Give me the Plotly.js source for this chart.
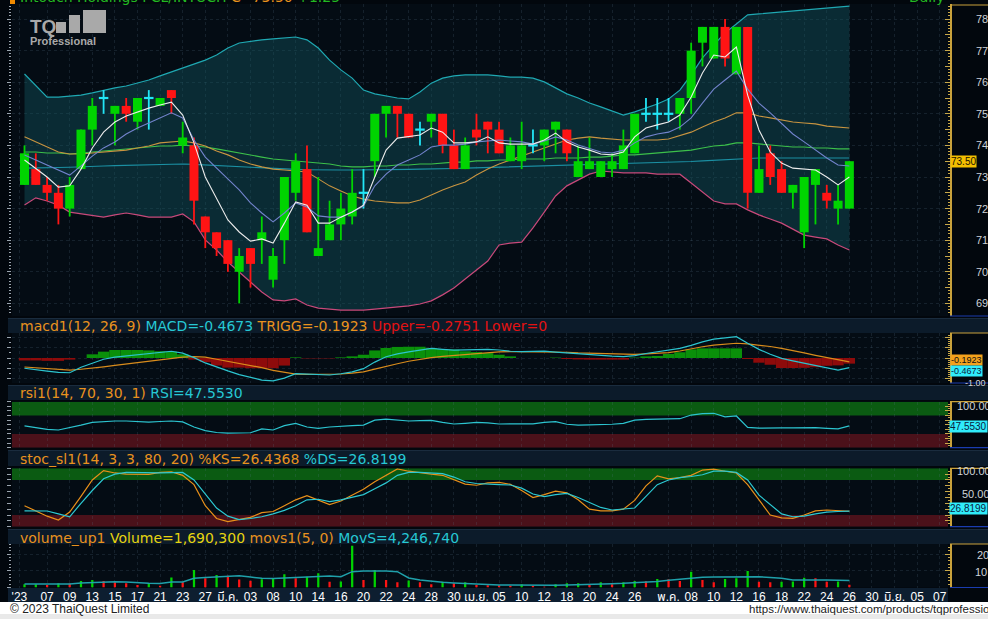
<!DOCTYPE html>
<html><head><meta charset="utf-8">
<script src="https://cdn.plot.ly/plotly-3.0.1.min.js"></script>
<style>html,body{margin:0;padding:0;background:#02070d;overflow:hidden}#chart{width:988px;height:619px}</style>
</head><body><div id="chart"></div>
<script>
// ---------------- DATA ----------------
const openP  = [72.75,73.25,72.75,72.5,72.0,73.25,74.5,75.5,75.0,75.25,
  74.75,75.5,75.25,75.75,74.0,74.0,71.75,71.25,71.0,70.0,
  70.75,71.0,69.75,71.0,72.5,73.25,70.5,71.0,71.5,71.75,
  72.5,73.5,75.0,75.25,75.0,74.5,74.75,75.0,74.0,73.25,
  74.5,74.75,74.5,73.5,73.5,74.0,74.0,74.5,74.5,73.0,
  73.25,73.0,73.25,73.25,73.75,75.0,75.0,75.0,75.0,75.5,
  77.25,76.75,77.75,76.25,77.75,72.5,73.75,73.25,72.5,71.25,
  72.75,72.5,72.0,72.0];
const highP  = [74.0,73.75,73.0,72.75,73.0,74.5,75.5,75.75,75.25,75.5,
  75.5,75.75,75.5,75.75,74.75,74.25,71.75,71.25,71.0,70.75,
  70.75,71.75,70.75,73.0,73.75,74.0,73.0,72.25,72.5,73.25,
  73.25,75.0,75.25,75.25,75.0,74.75,75.0,75.0,74.5,74.25,
  75.0,74.75,74.75,74.25,74.75,74.5,74.5,74.75,74.5,74.0,
  74.25,73.5,73.75,74.5,75.0,75.5,75.5,75.5,75.5,77.25,
  77.75,77.75,78.0,77.75,77.75,74.0,74.0,73.5,72.75,73.0,
  73.25,72.75,72.75,73.5];
const lowP   = [72.75,72.75,72.25,71.5,71.75,73.25,74.0,75.0,74.0,74.75,
  74.5,74.5,75.25,75.0,73.75,71.5,70.75,70.5,70.0,69.0,
  69.5,70.25,69.5,70.25,72.25,71.25,70.5,71.0,71.0,71.5,
  72.0,73.0,74.25,74.25,74.25,74.0,74.25,73.75,73.25,73.25,
  74.0,73.75,73.75,73.5,73.25,73.75,73.5,73.75,73.5,73.0,
  73.25,73.0,73.0,73.25,73.75,74.75,74.5,74.75,74.5,75.0,
  76.5,76.75,76.5,76.25,72.0,72.5,72.75,72.5,72.0,70.75,
  71.5,72.0,71.5,72.0];
const closeP = [73.75,72.75,72.5,72.0,72.75,74.5,75.25,75.5,75.25,75.0,
  75.5,75.5,75.5,75.5,74.25,72.25,71.25,70.75,70.25,70.5,
  70.25,71.25,70.5,73.0,73.5,71.25,70.75,71.5,72.0,72.5,
  72.5,75.0,75.25,75.0,74.25,74.5,75.0,74.0,73.25,74.0,
  74.25,74.5,73.75,74.0,74.0,74.0,74.5,74.75,73.75,73.5,
  73.5,73.5,73.5,74.0,75.0,75.0,75.0,75.0,75.5,77.0,
  77.75,77.75,76.75,77.75,72.5,73.25,73.0,72.5,72.75,73.0,
  73.25,72.25,72.25,73.5];

const bbUpper = [76.26,75.91,75.53,75.53,75.56,75.59,75.66,75.75,75.82,75.88,
  75.97,76.07,76.20,76.32,76.45,76.58,76.70,76.86,77.08,77.24,
  77.30,77.34,77.37,77.40,77.43,77.34,77.08,76.70,76.39,76.13,
  75.75,75.63,75.56,75.50,75.47,75.69,75.97,76.13,76.20,76.23,
  76.23,76.23,76.20,76.16,76.16,76.13,76.01,75.82,75.63,75.50,
  75.34,75.22,75.09,74.96,75.06,75.18,75.31,75.47,75.75,76.23,
  76.77,77.18,77.56,77.84,78.13,78.16,78.19,78.22,78.25,78.28,
  78.32,78.35,78.38,78.41];
const bbLower = [72.11,72.34,72.24,72.11,71.89,71.83,71.77,71.73,71.80,71.86,
  71.80,71.73,71.73,71.73,71.83,71.58,71.01,70.69,70.31,69.99,
  69.68,69.36,69.11,69.08,69.14,68.95,68.85,68.82,68.79,68.79,
  68.79,68.82,68.85,68.89,68.92,68.98,69.08,69.27,69.49,69.77,
  70.06,70.34,70.85,70.91,70.94,71.39,71.89,72.40,72.72,72.91,
  73.09,73.19,73.16,73.13,73.13,73.13,73.09,73.09,73.09,72.81,
  72.53,72.24,72.15,72.15,71.96,71.80,71.67,71.54,71.35,71.16,
  71.10,71.04,70.85,70.69];
const maMid = [74.27,74.11,73.95,73.79,73.73,73.73,73.76,73.79,73.82,73.85,
  73.92,73.98,74.08,74.11,74.14,74.08,73.98,73.82,73.70,73.54,
  73.41,73.32,73.25,73.22,73.19,73.16,72.94,72.72,72.56,72.40,
  72.30,72.24,72.21,72.18,72.18,72.27,72.43,72.59,72.72,72.84,
  73.06,73.25,73.41,73.54,73.66,73.79,73.92,74.04,74.17,74.23,
  74.27,74.23,74.20,74.17,74.17,74.17,74.17,74.20,74.30,74.42,
  74.58,74.74,74.87,75.03,75.03,74.93,74.87,74.80,74.74,74.71,
  74.68,74.61,74.58,74.55];
const maGreen = [73.79,73.79,73.76,73.76,73.73,73.76,73.79,73.82,73.85,73.89,
  73.92,73.95,73.98,73.98,74.01,73.98,73.95,73.89,73.82,73.76,
  73.70,73.63,73.57,73.54,73.51,73.47,73.44,73.41,73.35,73.32,
  73.32,73.35,73.35,73.38,73.38,73.41,73.41,73.44,73.47,73.47,
  73.51,73.51,73.54,73.54,73.57,73.57,73.57,73.60,73.60,73.60,
  73.63,73.63,73.66,73.70,73.70,73.73,73.76,73.79,73.82,73.85,
  73.92,73.98,74.01,74.08,74.08,74.04,74.01,73.98,73.95,73.95,
  73.92,73.92,73.89,73.89];
const maTeal = [73.28,73.28,73.29,73.30,73.31,73.33,73.34,73.35,73.36,73.37,
  73.38,73.39,73.40,73.41,73.41,73.40,73.38,73.36,73.34,73.32,
  73.30,73.28,73.26,73.25,73.24,73.23,73.22,73.22,73.22,73.22,
  73.22,73.23,73.23,73.24,73.24,73.25,73.25,73.26,73.27,73.28,
  73.29,73.30,73.31,73.32,73.33,73.34,73.35,73.36,73.37,73.38,
  73.38,73.39,73.40,73.41,73.42,73.43,73.44,73.45,73.47,73.49,
  73.51,73.53,73.55,73.57,73.59,73.60,73.60,73.60,73.60,73.60,
  73.60,73.60,73.60,73.60];
const maBlue = [73.70,73.54,73.38,73.22,73.06,73.35,73.66,73.92,74.11,74.36,
  74.55,74.71,74.87,75.03,74.87,74.17,73.63,73.28,72.94,72.59,
  72.18,71.86,71.58,71.86,72.18,72.05,71.77,71.73,71.73,71.89,
  72.08,72.72,73.09,73.38,73.54,73.70,73.95,74.01,74.01,74.04,
  74.11,74.14,74.17,74.14,74.11,74.04,74.14,74.27,74.17,74.01,
  73.89,73.79,73.76,73.85,74.08,74.27,74.36,74.42,74.58,74.87,
  75.34,75.78,76.07,76.35,75.78,75.34,75.03,74.68,74.36,74.11,
  73.85,73.60,73.38,73.35];
const maWhite = [73.54,73.28,73.00,72.68,72.72,73.25,73.92,74.42,74.74,74.93,
  75.06,75.18,75.28,75.37,74.96,74.08,73.00,72.34,71.64,71.26,
  70.97,71.04,70.91,71.54,72.21,72.11,71.54,71.54,71.73,71.89,
  72.11,73.00,73.85,74.23,74.27,74.33,74.55,74.42,74.08,74.08,
  74.11,74.27,74.08,74.04,74.04,74.04,74.17,74.39,74.11,73.95,
  73.85,73.73,73.70,73.79,74.27,74.55,74.65,74.74,74.96,75.53,
  76.29,76.86,76.80,77.11,75.59,74.49,73.79,73.44,73.28,73.25,
  73.22,73.00,72.75,73.00];

const macdLine = [-0.50,-0.58,-0.64,-0.70,-0.72,-0.45,-0.25,-0.06,0.04,0.10,
  0.17,0.24,0.29,0.33,0.24,0.02,-0.24,-0.45,-0.63,-0.81,
  -0.96,-1.08,-1.12,-0.98,-0.76,-0.78,-0.81,-0.83,-0.77,-0.68,
  -0.52,-0.20,0.06,0.20,0.30,0.40,0.47,0.42,0.38,0.40,
  0.42,0.42,0.39,0.33,0.31,0.33,0.34,0.29,0.25,0.20,
  0.15,0.11,0.09,0.07,0.12,0.22,0.30,0.39,0.47,0.62,
  0.79,0.92,0.98,1.04,0.72,0.42,0.18,-0.02,-0.14,-0.25,
  -0.37,-0.50,-0.59,-0.4673];
const macdSignal = [-0.44,-0.48,-0.52,-0.56,-0.59,-0.55,-0.50,-0.43,-0.36,-0.29,
  -0.23,-0.16,-0.09,-0.02,0.04,0.07,0.04,-0.06,-0.16,-0.24,
  -0.35,-0.47,-0.60,-0.71,-0.79,-0.80,-0.80,-0.80,-0.78,-0.74,
  -0.68,-0.54,-0.40,-0.28,-0.16,-0.06,0.02,0.08,0.13,0.18,
  0.22,0.26,0.30,0.31,0.31,0.31,0.31,0.30,0.28,0.25,
  0.23,0.21,0.19,0.18,0.18,0.20,0.22,0.26,0.34,0.45,
  0.55,0.63,0.68,0.72,0.69,0.64,0.56,0.47,0.37,0.25,
  0.13,0.03,-0.07,-0.1923];
const macdHist = [-0.12,-0.12,-0.14,-0.14,-0.08,0.00,0.18,0.31,0.39,0.39,
  0.39,0.37,0.33,0.31,0.18,-0.08,-0.20,-0.37,-0.47,-0.47,
  -0.50,-0.50,-0.50,-0.37,0.03,-0.02,-0.02,-0.02,0.03,0.08,
  0.16,0.37,0.49,0.54,0.55,0.55,0.49,0.44,0.41,0.33,
  0.29,0.24,0.16,0.08,0.00,0.00,0.00,0.02,-0.05,-0.07,
  -0.08,-0.08,-0.08,-0.08,0.02,0.08,0.10,0.20,0.28,0.42,
  0.47,0.47,0.47,0.47,-0.05,-0.23,-0.33,-0.49,-0.49,-0.48,
  -0.45,-0.38,-0.36,-0.2751];

const rsiVals = [47.5,43,40,38.5,43,49,55,57,58,58,
  56.5,55.5,57,58,56,45,37,33,31.5,32,
  32.5,41,38.5,48,53,45,42,45,47,48,
  49,60,62,60,58,59,59.5,55,51.5,53,
  55,54,51.5,52,51.5,52,55,56.5,51,49,
  49.5,49.5,51,53,60,61.7,61.7,61.7,63,71,
  74,74.8,67,69,44,42.5,42,43,43,43.5,
  43.5,42,41,47.553];
const stochK = [36,27,18,11.5,25,52,80,96,92,90,
  89.7,89.7,93,94,88,72,36,14,8.6,12,
  16,24,26,36,46,53,46,38,44,54,
  64,77,88,98.8,95,92,90,88,80,73,
  71,75,76,72.6,62,50,55,61,58,46,
  30,27,27,30,45,70,87,82,84,88,
  97,98.5,95,92,72,45,20,15,14.4,20,
  27,28.6,27,26.4368];
const stochD = [27,27,26.9,22,17,40,62,82,90,93,
  92.5,91.5,92,92.5,93,80,55,32,18,12,
  14,17,22,28,36,46,47,43,46,50,
  55,65,75,88,93,93,92,91,85,77,
  74,72.6,72,71.4,66,56,51.4,55,57,50,
  42,33,28.6,30,32,52,72,80,84,86,
  89,95,95,93,80,54,38,22,17,18,
  22,25,26,26.8199];

const volumeM = [1.9,2.0,1.5,2.5,2.4,3.9,4.5,3.9,3.1,2.5,
  1.5,2.5,1.1,6.0,3.1,10.5,5.5,7.5,7.1,4.8,
  4.0,5.0,5.5,7.9,5.5,6.5,8.5,3.4,3.6,25.0,
  4.5,10.5,4.5,3.1,4.2,3.1,1.9,3.5,2.5,3.1,
  1.5,1.4,1.3,1.1,1.9,1.1,0.5,1.9,2.5,2.6,
  1.9,3.1,1.9,3.1,3.9,3.7,5.1,5.0,3.9,9.5,
  4.5,3.1,5.1,5.5,9.9,3.5,3.1,3.5,3.6,5.9,
  5.5,3.5,3.6,1.6903];
const movsM = [2.1,2.1,2.1,2.2,2.1,2.7,3.1,3.5,3.5,3.3,
  2.7,2.5,2.4,3.3,3.3,5.5,6.0,6.5,6.9,7.1,
  6.3,5.5,5.4,5.7,5.9,6.0,6.6,6.9,6.5,9.5,
  9.9,10.1,9.9,9.5,5.7,4.5,3.6,3.1,2.7,2.4,
  1.9,1.9,1.5,1.5,1.4,1.3,1.2,1.3,1.5,1.8,
  1.9,2.1,2.3,2.5,2.8,3.0,3.6,4.4,5.1,5.7,
  6.1,6.3,6.4,6.5,6.5,6.4,6.0,5.5,4.5,4.3,
  4.5,4.5,4.2,4.2467];

const tickPos  = [-0.45,2,4,6,8,10,12,14,16,18,20,22,24,26,28,30,32,34,36,38,40,42,44,46,48,50,52,54,57,59,61,63,65,67,69,71,73,75,77,79,81];
const tickText = ["'23","07","09","13","15","17","21","23","27","มี.ค.","03","08","10","14","16","20","22","24","28","30","เม.ย.","05","10","12","18","20","24","26","พ.ค.","08","10","12","16","18","22","24","26","30","มิ.ย.","05","07"];
const priceLabels = [69,70,71,72,73,74,75,76,77,78];
const lastPrice = 73.50;

// ---------------- STYLE / GEOMETRY ----------------
const W = 988, H = 619;
const fx = p => p / W;
const fy = p => 1 - p / H;
const GREEN = '#00d400', RED = '#ff1414', DOJI = '#22e6f6';
const ORANGE = '#e8921e', CYAN = '#26c8d4';
const FONT = 'DejaVu Sans, Verdana, sans-serif';
const LFONT = 'Liberation Sans, Arial, sans-serif';
const gridC = 'rgba(90,120,140,0.20)';

const N = closeP.length;
const idx = Array.from({length: N}, (_, i) => i);
const isDoji = i => openP[i] === closeP[i];
const isUp = i => closeP[i] > openP[i];
const isDown = i => closeP[i] < openP[i];

function lineTrace(y, color, width, yaxis, extra) {
  return Object.assign({type: 'scatter', mode: 'lines', x: idx, y: y, line: {color: color, width: width},
    xaxis: 'x', yaxis: yaxis || 'y', hoverinfo: 'skip'}, extra || {});
}
function segTrace(pred, y0arr, y1arr, color, width, dx) {
  const xs = [], ys = [];
  idx.forEach(i => {
    if (pred(i)) {
      if (dx) { xs.push(i - dx, i + dx, null); ys.push(y1arr[i], y1arr[i], null); }
      else { xs.push(i, i, null); ys.push(y0arr[i], y1arr[i], null); }
    }
  });
  return {type: 'scatter', mode: 'lines', x: xs, y: ys, line: {color: color, width: width},
    xaxis: 'x', yaxis: 'y', hoverinfo: 'skip', connectgaps: false};
}

const traces = [];
traces.push(lineTrace(bbLower, '#c8497a', 1.2));
traces.push(lineTrace(bbUpper, '#1fa8b2', 1.2, 'y', {fill: 'tonexty', fillcolor: 'rgba(20,88,98,0.42)'}));
traces.push(lineTrace(maTeal, '#1b8fa2', 1.1));
traces.push(lineTrace(maGreen, '#3cc04a', 1.1));
traces.push(lineTrace(maMid, '#c89440', 1.1));
traces.push(segTrace(isUp, lowP, highP, GREEN, 1.8));
traces.push(segTrace(isDown, lowP, highP, RED, 1.8));
traces.push(segTrace(isDoji, lowP, highP, DOJI, 1.8));
traces.push(segTrace(isUp, openP, closeP, GREEN, 9));
traces.push(segTrace(isDown, openP, closeP, RED, 9));
traces.push(segTrace(isDoji, closeP, closeP, DOJI, 2.2, 0.42));
traces.push(lineTrace(maBlue, '#7283cc', 1.1));
traces.push(lineTrace(maWhite, '#ececec', 1.1));

traces.push({type: 'bar', x: idx, y: macdHist, width: 1.0, xaxis: 'x', yaxis: 'y2',
  marker: {color: macdHist.map(v => v >= 0 ? '#0a900a' : '#8e0b0b'), line: {width: 0}}, hoverinfo: 'skip'});
traces.push(lineTrace(macdSignal, '#d98c1c', 1.2, 'y2'));
traces.push(lineTrace(macdLine, '#2cc4cf', 1.2, 'y2'));
traces.push(lineTrace(rsiVals, '#2cc4cf', 1.2, 'y3'));
traces.push(lineTrace(stochK, '#e8901a', 1.2, 'y4'));
traces.push(lineTrace(stochD, '#2cc8d2', 1.2, 'y4'));
traces.push({type: 'bar', x: idx, y: volumeM, width: 0.2, xaxis: 'x', yaxis: 'y5',
  marker: {color: volumeM.map((v, i) => (i === 0 || v > volumeM[i - 1]) ? GREEN : RED), line: {width: 0}}, hoverinfo: 'skip'});
traces.push(lineTrace(movsM, '#1fa0aa', 1.5, 'y5'));
['y6', 'y7', 'y8', 'y9', 'y10'].forEach(a => traces.push({type: 'scatter', mode: 'lines', x: [null], y: [null], xaxis: 'x', yaxis: a, hoverinfo: 'skip'}));

function leftAxis(top, bot, range, dtick, tick0, minorDt, grid) {
  const a = {domain: [fy(bot), fy(top)], range: range, anchor: 'x', side: 'left', showticklabels: false,
    ticks: 'outside', ticklen: 4, tickcolor: '#9aa4ae', tickwidth: 1, tickmode: 'linear', dtick: dtick, tick0: tick0,
    showgrid: grid, gridcolor: gridC, griddash: 'dot', zeroline: false, showline: false, fixedrange: true};
  if (minorDt) a.minor = {ticks: 'outside', ticklen: 2, tickcolor: '#9aa4ae', dtick: minorDt, tick0: tick0, showgrid: false};
  return a;
}
function rightAxis(over, range, dtick, tick0, minorDt) {
  return {overlaying: over, anchor: 'free', position: fx(950), side: 'right', range: range,
    showticklabels: false, ticks: 'inside', ticklen: 5, tickcolor: '#c8a848', tickwidth: 1,
    tickmode: 'linear', dtick: dtick, tick0: tick0,
    minor: {ticks: 'inside', ticklen: 2.5, tickcolor: '#c8a848', dtick: minorDt, tick0: tick0, showgrid: false},
    showline: true, linecolor: '#c9a23c', linewidth: 1.5, showgrid: false, zeroline: false, fixedrange: true};
}
const rMain = [68.6013, 78.4747], rMacd = [-1.22, 1.22], rPct = [0, 100], rVol = [0, 26.05];

const shapes = [];
function rectP(x0, x1, y0, y1, color, layer) {
  shapes.push({type: 'rect', xref: 'paper', yref: 'paper', x0: fx(x0), x1: fx(x1), y0: fy(y1), y1: fy(y0),
    fillcolor: color, line: {width: 0}, layer: layer || 'below'});
}
[[318, 333], [385, 400], [450, 466], [529, 544]].forEach(([a, b]) => {
  rectP(8, 988, a, b, '#0c1b2a');
  rectP(8, 988, a, a + 1, '#1a2c3e');
});
rectP(8, 948, 588, 602, '#0d1e30');
rectP(0, 988, 602, 619, '#ffffff');
rectP(0, 988, 614, 619, '#e9e9e9');
rectP(10, 15, 0, 4, '#f08a00', 'above');
// TQ logo bars
rectP(56, 66, 22, 33, '#a9a9a9', 'above');
rectP(69, 80, 15, 33, '#a9a9a9', 'above');
rectP(83, 106, 10, 33, '#a9a9a9', 'above');
function band(yref, y0, y1, color) {
  shapes.push({type: 'rect', xref: 'paper', yref: yref, x0: fx(12), x1: fx(948), y0: y0, y1: y1,
    fillcolor: color, line: {width: 0}, layer: 'below'});
}
band('y3', 70, 100, '#0b5b12'); band('y3', 0, 30, '#4b111a');
band('y4', 80, 100, '#0b5b12'); band('y4', 0, 20, '#4b111a');
[[5, 316], [333, 383], [401.7, 447.7], [468.3, 526.7], [544, 587.5]].forEach(([t, b]) => {
  shapes.push({type: 'line', xref: 'paper', yref: 'paper', x0: fx(950), x1: 1, y0: fy(t), y1: fy(t), line: {color: '#c9a23c', width: 1.2}});
  shapes.push({type: 'line', xref: 'paper', yref: 'paper', x0: fx(950), x1: 1, y0: fy(b), y1: fy(b), line: {color: '#1a3cb0', width: 1.2}});
});

const ann = [];
function txt(x, y, text, size, color, anchor, extra) {
  ann.push(Object.assign({xref: 'paper', yref: 'paper', x: fx(x), y: fy(y), text: text, showarrow: false,
    xanchor: anchor || 'left', yanchor: 'middle', font: {family: FONT, size: size, color: color}}, extra || {}));
}
const sp = (c, t) => `<span style="color:${c}">${t}</span>`;
txt(18, -3, sp('#22b822', 'Intouch Holdings PCL/INTUCH ') + sp(ORANGE, 'C=73.50') + sp('#22b822', ' +1.25'), 14, '#22b822');
txt(946, -3, 'Daily', 14, '#22b822', 'right');
txt(28, 27, '<b>TQ</b>', 19, '#a9a9a9', 'left', {font: {family: LFONT, size: 19, color: '#a9a9a9'}});
txt(28, 41.5, '<b>Professional</b>', 11, '#a9a9a9', 'left', {font: {family: LFONT, size: 11, color: '#a9a9a9'}});

txt(18, 326, sp(ORANGE, 'macd1(12, 26, 9) ') + sp(CYAN, 'MACD=-0.4673 ') + sp(ORANGE, 'TRIGG=-0.1923 ') + sp('#e41212', 'Upper=-0.2751 Lower=0'), 14, ORANGE);
txt(18, 392.5, sp(ORANGE, 'rsi1(14, 70, 30, 1) ') + sp(CYAN, 'RSI=47.5530'), 14, ORANGE);
txt(18, 459, sp(ORANGE, 'stoc_sl1(14, 3, 3, 80, 20) %KS=26.4368 ') + sp(CYAN, '%DS=26.8199'), 14, ORANGE);
txt(18, 537.5, sp(ORANGE, 'volume_up1 ') + sp('#e6d410', 'Volume=1,690,300 ') + sp(ORANGE, 'movs1(5, 0) ') + sp(CYAN, 'MovS=4,246,740'), 14, ORANGE);

const axFont = {family: LFONT, size: 11, color: '#cfd3d8'};
const boxFont = (c, s) => ({family: LFONT, size: s || 10, color: c});
priceLabels.forEach(v => ann.push({xref: 'paper', yref: 'y', x: fx(974), y: v, text: v.toFixed(2), showarrow: false,
  xanchor: 'left', yanchor: 'middle', font: axFont}));
ann.push({xref: 'paper', yref: 'y', x: fx(950), y: lastPrice, text: lastPrice.toFixed(2), showarrow: false, xanchor: 'left', yanchor: 'middle',
  bgcolor: '#f4bf00', borderpad: 0, font: boxFont('#1a1200')});
txt(950, 359.5, '-0.1923', 9, '#101010', 'left', {bgcolor: '#f4a21c', borderpad: 0, font: boxFont('#101010', 9)});
txt(950, 371, '-0.4673', 9, '#0a2040', 'left', {bgcolor: '#30ecfa', borderpad: 0, font: boxFont('#0a2040', 9)});
txt(963, 382.5, '-1.00', 9, '#d6d6d6', 'left', {font: {family: LFONT, size: 9, color: '#d6d6d6'}});
txt(955, 405.7, '100.00', 11, '#d6d6d6', 'left', {font: axFont});
txt(949, 426.7, '47.5530', 10, '#0a2040', 'left', {bgcolor: '#30ecfa', borderpad: 0, font: boxFont('#0a2040')});
txt(955, 471, '100.00', 11, '#d6d6d6', 'left', {font: axFont});
txt(960, 494.3, '50.00', 11, '#d6d6d6', 'left', {font: axFont});
txt(949, 508.5, '26.8199', 10, '#0a2040', 'left', {bgcolor: '#30ecfa', borderpad: 0, font: boxFont('#0a2040')});
txt(975, 555, '20', 11, '#d6d6d6', 'left', {font: axFont});
txt(973, 571.7, '10', 11, '#d6d6d6', 'left', {font: axFont});
txt(8, 608.5, '© 2023 ThaiQuest Limited', 12, '#222222', 'left', {font: {family: LFONT, size: 12, color: '#222222'}});
txt(747, 608.5, 'https://www.thaiquest.com/products/tqprofessional', 11.5, '#222222', 'left', {font: {family: LFONT, size: 11.5, color: '#222222'}});

const layout = {
  width: W, height: H,
  margin: {l: 0, r: 0, t: 0, b: 0, pad: 0},
  paper_bgcolor: '#02070d',
  plot_bgcolor: '#040c14',
  showlegend: false,
  hovermode: false,
  xaxis: {domain: [fx(12), fx(948)], range: [-1.106, 81.73], anchor: 'y5',
    tickmode: 'array', tickvals: tickPos, ticktext: tickText, ticks: '',
    tickfont: {family: 'Liberation Sans, Tahoma, Noto Sans Thai, Loma, Garuda, sans-serif', size: 12, color: '#ffffff'},
    showgrid: true, gridcolor: gridC, griddash: 'dot', zeroline: false, showline: false, fixedrange: true},
  yaxis: leftAxis(4, 316, rMain, 1, 69, 0.1, true),
  yaxis2: leftAxis(333, 383, rMacd, 0.5, 0, 0.25, true),
  yaxis3: leftAxis(401.7, 447.7, rPct, 10, 0, null, false),
  yaxis4: leftAxis(468.3, 526.7, rPct, 10, 0, null, false),
  yaxis5: leftAxis(544, 587.5, rVol, 10, 0, 2, true),
  yaxis6: rightAxis('y', rMain, 0.5, 69, 0.1),
  yaxis7: rightAxis('y2', rMacd, 0.5, 0, 0.1),
  yaxis8: rightAxis('y3', rPct, 10, 0, 5),
  yaxis9: rightAxis('y4', rPct, 10, 0, 5),
  yaxis10: rightAxis('y5', rVol, 10, 0, 2),
  shapes: shapes,
  annotations: ann
};

Plotly.newPlot('chart', traces, layout, {staticPlot: true, displayModeBar: false});
</script>
</body></html>
